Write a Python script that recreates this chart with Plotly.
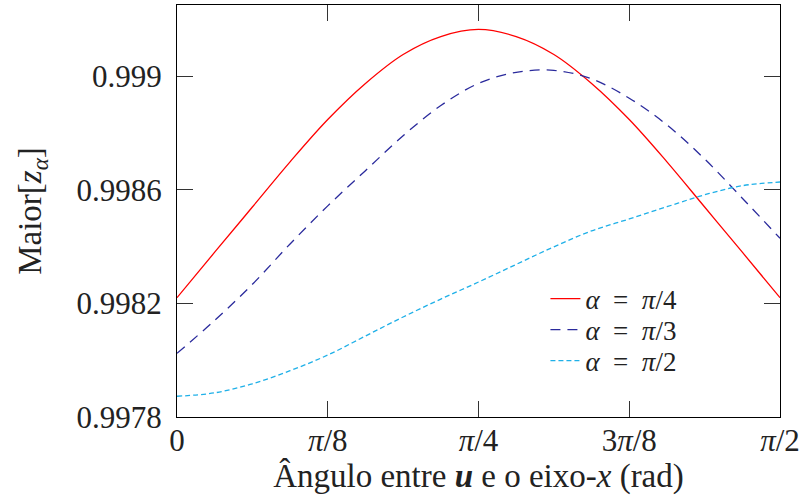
import math
import plotly.graph_objects as go

# Angle samples: k * pi/32 for k = 0..16 (0 .. pi/2)
angle_steps = list(range(17))
theta = [k * math.pi / 32 for k in angle_steps]

# Largest z_alpha for each alpha
z_pi_4 = [0.998220, 0.998380, 0.998539, 0.998698, 0.998847, 0.998974, 0.999076, 0.999139,
          0.999164,
          0.999139, 0.999076, 0.998974, 0.998847, 0.998698, 0.998539, 0.998380, 0.998220]
z_pi_3 = [0.998024, 0.998140, 0.998267, 0.998409, 0.998543, 0.998667, 0.998790, 0.998896,
          0.998974, 0.999013, 0.999020, 0.998990, 0.998922, 0.998828, 0.998708, 0.998570,
          0.998429]
z_pi_2 = [0.997873, 0.997885, 0.997917, 0.997963, 0.998018, 0.998085, 0.998152, 0.998215,
          0.998275, 0.998337, 0.998399, 0.998455, 0.998497, 0.998540, 0.998582, 0.998614,
          0.998627]

EN = "\u2002"
series_names = [f"<i>α</i>{EN}={EN}<i>π</i>/4",
                f"<i>α</i>{EN}={EN}<i>π</i>/3",
                f"<i>α</i>{EN}={EN}<i>π</i>/2"]

x_tickvals = [0, math.pi / 8, math.pi / 4, 3 * math.pi / 8, math.pi / 2]
x_ticktext = ["0", "<i>π</i>/8", "<i>π</i>/4", "3<i>π</i>/8", "<i>π</i>/2"]
y_tickvals = [0.9978, 0.9982, 0.9986, 0.9990]
y_ticktext = ["0.9978", "0.9982", "0.9986", "0.999"]

FONT = "Liberation Serif"
TXT = "#222222"

fig = go.Figure()
fig.add_trace(go.Scatter(x=theta, y=z_pi_4, mode="lines", name=series_names[0], legend="legend",
                         line=dict(color="#ff0000", width=1.3, shape="spline", smoothing=1.0)))
fig.add_trace(go.Scatter(x=theta, y=z_pi_3, mode="lines", name=series_names[1], legend="legend2",
                         line=dict(color="#2a2a9c", width=1.3, dash="10px,7px",
                                   shape="spline", smoothing=1.0)))
fig.add_trace(go.Scatter(x=theta, y=z_pi_2, mode="lines", name=series_names[2], legend="legend3",
                         line=dict(color="#1fb0e8", width=1.3, dash="5px,3px",
                                   shape="spline", smoothing=1.0)))

axis_common = dict(
    showgrid=False, zeroline=False,
    showline=True, linecolor="black", linewidth=1.3, mirror="ticks",
    ticks="inside", ticklen=16, tickwidth=1, tickcolor="#333333",
    tickfont=dict(family=FONT, size=31, color=TXT),
)

fig.update_xaxes(
    range=[0, math.pi / 2], tickmode="array", tickvals=x_tickvals, ticktext=x_ticktext,
    ticklabelstandoff=-4,
    title=dict(text="Ângulo entre <b><i>u</i></b> e o eixo-<i>x</i> (rad)",
               font=dict(family=FONT, size=33, color=TXT), standoff=2),
    **axis_common,
)
fig.update_yaxes(
    range=[0.9978, 0.99925], tickmode="array", tickvals=y_tickvals, ticktext=y_ticktext,
    ticklabelstandoff=8,
    title=dict(text="Maior[<i>z</i><sub><i>α</i></sub>]",
               font=dict(family=FONT, size=33, color=TXT), standoff=24),
    **axis_common,
)

# One legend per series so the rows can sit close together
legend_common = dict(xanchor="left", yanchor="middle", bgcolor="rgba(0,0,0,0)", borderwidth=0,
                     font=dict(family=FONT, size=27, color=TXT))
fig.update_layout(
    width=807, height=504,
    margin=dict(l=177, r=27, t=5, b=87),
    paper_bgcolor="white", plot_bgcolor="white",
    showlegend=True,
    legend=dict(x=0.611, y=0.2864, **legend_common),
    legend2=dict(x=0.611, y=0.2112, **legend_common),
    legend3=dict(x=0.611, y=0.1359, **legend_common),
)

fig.write_html("out.html")
